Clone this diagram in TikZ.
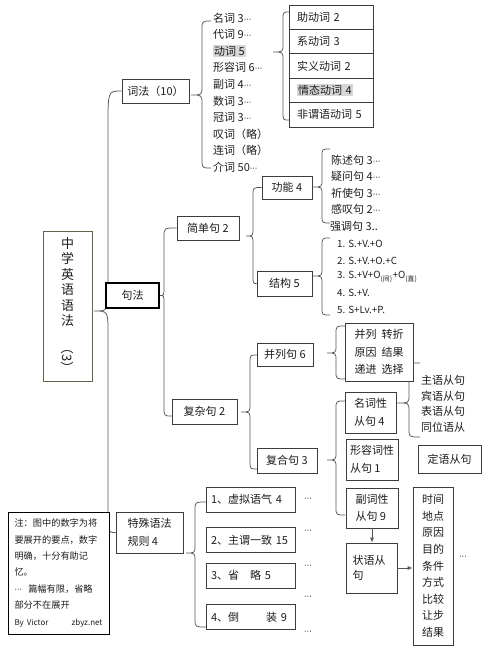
\documentclass[tikz,border=0pt]{standalone}
\usepackage{fontspec}
\setmainfont{Noto Sans CJK SC}
\newfontfamily\dvfont{DejaVu Sans}
\usetikzlibrary{calc,backgrounds,arrows.meta}
\definecolor{ln}{RGB}{85,85,85}
\definecolor{bx}{RGB}{60,60,60}
\definecolor{ol}{RGB}{100,100,75}
\definecolor{hl}{RGB}{215,215,215}
\definecolor{txt}{RGB}{30,30,30}
% tip, spine x, top end, bottom end, r top, r tip, r bottom
\newcommand\xbrace[7]{\draw[conn] let \p1=(#1),\p3=(#3),\p4=(#4) in
  (\p3) .. controls (#2pt,\y3) .. (#2pt,\y3-#5pt) -- (#2pt,\y1+#6pt) .. controls (#2pt,\y1) .. (\p1)
  .. controls (#2pt,\y1) .. (#2pt,\y1-#6pt) -- (#2pt,\y4+#7pt) .. controls (#2pt,\y4) .. (\p4);}
\newcommand\hlt[1]{{\setlength{\fboxsep}{1pt}\colorbox{hl}{#1}}}
\newcommand\md{{\dvfont\fontsize{8}{8}\selectfont ···}}
\begin{document}
\begin{tikzpicture}[x=1pt,y=-1pt,
  every node/.style={text=txt},
  conn/.style={draw=ln, line width=0.75pt},
  box/.style={draw=bx, line width=0.75pt, fill=white, inner sep=0pt, align=center, font=\fontsize{11}{17.5}\selectfont},
  lbox/.style={box, align=left},
  itm/.style={anchor=west, inner sep=0pt, font=\fontsize{11}{13}\selectfont},
  sitm/.style={anchor=west, inner sep=0pt, font=\fontsize{9.8}{11}\selectfont},
  dots/.style={inner sep=0pt},
  arr/.style={conn, -{Latex[length=5pt,width=4pt]}}
]
\useasboundingbox (0,0) rectangle (491,655);
\begin{scope}[on background layer]
\fill[white] (0,0) rectangle (491,655);
\end{scope}

% main box
\node[box, draw=ol, minimum width=49, minimum height=150, font=\fontsize{13}{15.5}\selectfont] (main) at (67.5,306)
  {中\\学\\英\\语\\语\\法\\[0pt]{\fontsize{13}{13}\selectfont\rotatebox{-90}{（3）}}};

% level 1
\node[box, minimum width=67, minimum height=24] (cifa) at (155.5,91) {词法（10）};
\node[box, draw=black, line width=2pt, minimum width=53, minimum height=25] (juf) at (132.5,295.5) {句法};
\node[lbox, minimum width=67, minimum height=41] (tsyf) at (149.5,532.5) {特殊语法\\规则 4};

% word classes
\node[itm] (w1) at (213,18) {名词 3\md};
\node[itm] (w2) at (213,34.6) {代词 9\md};
\node[itm] (w3) at (213,51.2) {\hlt{动词 5}};
\node[itm] (w4) at (213,67.8) {形容词 6\md};
\node[itm] (w5) at (213,84.4) {副词 4\md};
\node[itm] (w6) at (213,101) {数词 3\md};
\node[itm] (w7) at (213,117.6) {冠词 3\md};
\node[itm] (w8) at (213,134.2) {叹词（略）};
\node[itm] (w9) at (213,150.8) {连词（略）};
\node[itm] (w10) at (213,167.4) {介词 50\md};

% verb table
\node[lbox, minimum width=84, minimum height=24.4, text width=68] (v1) at (331,17.2) {助动词 2};
\node[lbox, minimum width=84, minimum height=24.4, text width=68] (v2) at (331,41.6) {系动词 3};
\node[lbox, minimum width=84, minimum height=24.4, text width=68] (v3) at (331,66) {实义动词 2};
\node[lbox, minimum width=84, minimum height=24.4, text width=68] (v4) at (331,90.4) {\hlt{情态动词 4}};
\node[lbox, minimum width=84, minimum height=24.4, text width=68] (v5) at (331,114.8) {非谓语动词 5};

% sentences
\node[box, minimum width=62, minimum height=24] (jdj) at (208,228) {简单句 2};
\node[box, minimum width=65, minimum height=25] (fzj) at (204.5,411.5) {复杂句 2};
\node[box, minimum width=50, minimum height=23] (gn) at (287,187.5) {功能 4};
\node[box, minimum width=55, minimum height=25] (jg) at (284.5,283.5) {结构 5};

\node[itm] (f1) at (331,160.5) {陈述句 3\md};
\node[itm] (f2) at (331,176.5) {疑问句 4\md};
\node[itm] (f3) at (331,193) {祈使句 3\md};
\node[itm] (f4) at (331,209.5) {感叹句 2\md};
\node[itm] (f5) at (330,226) {强调句 3..};

\node[sitm] (s1) at (337,244) {1. S.+V.+O};
\node[sitm] (s2) at (337,261) {2. S.+V.+O.+C};
\node[sitm] (s3) at (337,277) {3. S.+V+O\textsubscript{(间)}+O\textsubscript{(直)}};
\node[sitm] (s4) at (337,293) {4. S.+V.};
\node[sitm] (s5) at (337,310) {5. S+Lv.+P.};

\node[box, minimum width=56, minimum height=23] (blj) at (285,354.5) {并列句 6};
\node[box, minimum width=60, minimum height=25] (fhj) at (287,460.5) {复合句 3};
\node[box, minimum width=68, minimum height=58] (lc) at (379,352) {并列\hspace{5pt}转折\\原因\hspace{5pt}结果\\递进\hspace{5pt}选择};

\node[lbox, minimum width=51, minimum height=41] (mcx) at (370.5,412.5) {名词性\\从句 4};
\node[lbox, minimum width=52, minimum height=41] (xrc) at (372,459.5) {形容词性\\从句 1};
\node[box, minimum width=63, minimum height=28] (dy) at (449.5,459) {定语从句};
\node[lbox, minimum width=52, minimum height=40] (fcx) at (372,508) {副词性\\从句 9};
\node[lbox, minimum width=51, minimum height=50, text width=38, font=\fontsize{11}{15}\selectfont] (zy) at (371.5,568) {状语从\\句};
\node[box, minimum width=40, minimum height=158, font=\fontsize{11}{16.6}\selectfont] (tm) at (433,566)
  {时间\\地点\\原因\\目的\\条件\\方式\\比较\\让步\\结果};

\node[itm] (n1) at (421,380) {主语从句};
\node[itm] (n2) at (421,396) {宾语从句};
\node[itm] (n3) at (421,411.5) {表语从句};
\node[itm] (n4) at (421,427) {同位语从};

% special rules
\node[lbox, minimum width=89, minimum height=25, text width=79] (t1) at (250.5,499.5) {1、虚拟语气 4};
\node[lbox, minimum width=89, minimum height=25, text width=79] (t2) at (250.5,540) {2、主谓一致 15};
\node[lbox, minimum width=89, minimum height=25, text width=79] (t3) at (250.5,575.5) {3、省\hspace{11pt}略 5};
\node[lbox, minimum width=89, minimum height=25, text width=79] (t4) at (250.5,617) {4、倒\hspace{27pt}装 9};

\node[dots] (d1) at (308,500) {\md};
\node[dots] (d2) at (308,532) {\md};
\node[dots] (d3) at (308,567) {\md};
\node[dots] (d4) at (308,598) {\md};
\node[dots] (d5) at (308,633) {\md};
\node[dots] (d6) at (463,558) {\md};

% note
\node[lbox, draw=black, minimum width=101, minimum height=122, text width=88, font=\fontsize{9.2}{16.4}\selectfont] (note) at (58.5,573)
  {注：图中的数字为将\\要展开的要点，数字\\明确，十分有助记\\忆。\\\md\ \ 篇幅有限，省略\\部分不在展开\\{\fontsize{8}{16.4}\selectfont By Victor\hfill zbyz.net}};

% brace coordinates
\coordinate (tM) at (94,311);
\coordinate (tC) at (191,95);
\coordinate (eC1) at (211,21);
\coordinate (eC2) at (211,168);
\coordinate (tV) at (273,52);
\coordinate (eV1) at (289,12);
\coordinate (eV2) at (289,120);
\coordinate (eJ2) at (172,416);
\coordinate (tS) at (246,236);
\coordinate (eG1) at (330,149);
\coordinate (eG2) at (330,223);
\coordinate (tG) at (313,187);
\coordinate (tK) at (313,276);
\coordinate (eK1) at (330,238);
\coordinate (eK2) at (330,315);
\coordinate (tF) at (241,412);
\coordinate (eF1) at (257,355);
\coordinate (eF2) at (257,469);
\coordinate (tB) at (327,353);
\coordinate (eB1) at (345,326);
\coordinate (eB2) at (345,379);
\coordinate (tH) at (327,460);
\coordinate (eH1) at (345,401);
\coordinate (eH2) at (345,515);
\coordinate (tN) at (397,403);
\coordinate (eN1) at (420,363);
\coordinate (eN2) at (420,437);
\coordinate (tT) at (186,553);
\coordinate (eT1) at (206,502);
\coordinate (eT2) at (206,627);

\begin{scope}[on background layer]
\xbrace{tM}{108}{cifa.west}{tsyf.west}{34}{22}{19}
\xbrace{tC}{202}{eC1}{eC2}{9}{9}{9}
\xbrace{tV}{283}{eV1}{eV2}{8}{8}{8}
\xbrace{juf.east}{164}{jdj.west}{eJ2}{9}{9}{9}
\xbrace{tS}{253}{gn.west}{jg.west}{8}{8}{8}
\xbrace{tG}{322}{eG1}{eG2}{8}{8}{8}
\xbrace{tK}{322}{eK1}{eK2}{8}{8}{8}
\xbrace{tF}{250}{eF1}{eF2}{8}{8}{8}
\xbrace{tB}{336}{eB1}{eB2}{8}{8}{8}
\xbrace{tH}{336}{eH1}{eH2}{8}{8}{8}
\xbrace{tN}{409}{eN1}{eN2}{8}{8}{8}
\xbrace{tT}{195}{eT1}{eT2}{8}{8}{8}
\end{scope}

\draw[arr] (fcx.south) -- (fcx.south |- zy.north);
\draw[arr] (zy.east) -- (zy.east -| tm.west);
\end{tikzpicture}
\end{document}
